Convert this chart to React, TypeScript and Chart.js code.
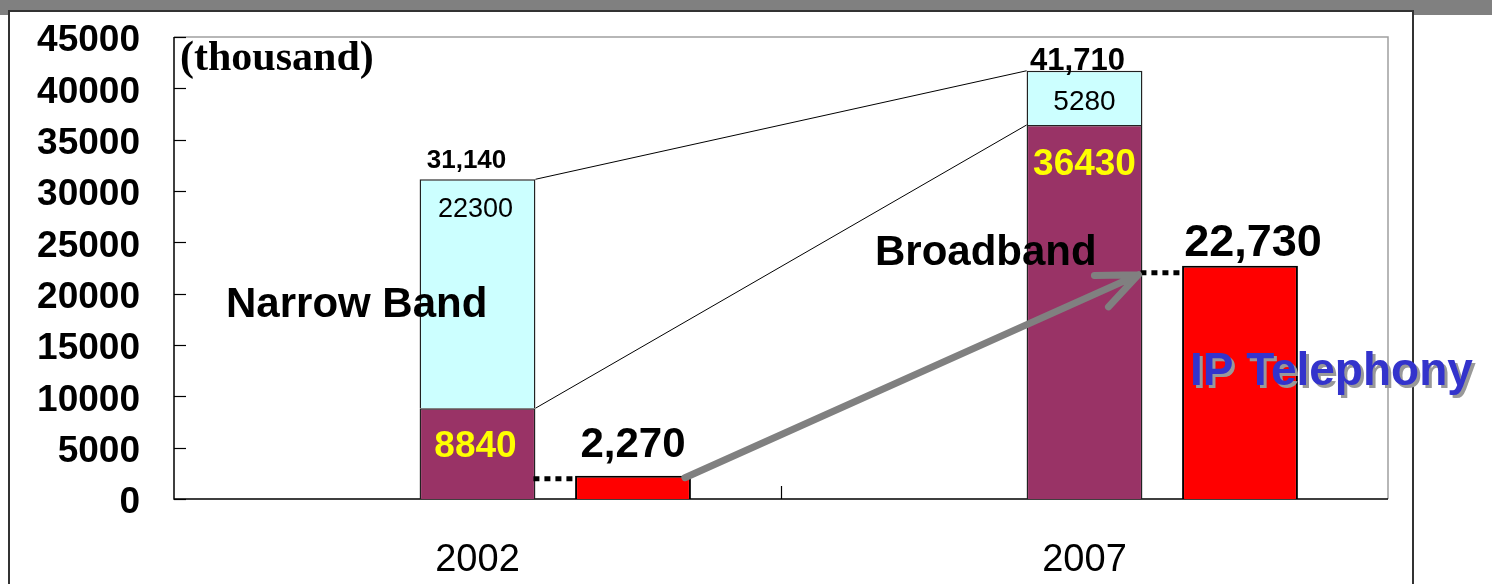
import React, { useEffect, useRef } from 'react';
import { Chart, registerables } from 'chart.js';

Chart.register(...registerables);

const W = 1492;
const H = 584;

const categories = ['2002', '2007'];
const broadband = [8840, 36430];
const narrowband = [22300, 5280];
const ipTelephony = [2270, 22730];
const totalLabels = ['31,140', '41,710'];
const ipLabels = ['2,270', '22,730'];
const yMax = 45000;
const yStep = 5000;

const SANS = '"Liberation Sans", Arial, sans-serif';
const SERIF = '"Liberation Serif", "Times New Roman", serif';

const decor = {
  id: 'decor',
  beforeDraw(chart: any) {
    const ctx = chart.ctx;
    ctx.save();
    ctx.fillStyle = '#ffffff';
    ctx.fillRect(0, 0, W, H);
    ctx.fillStyle = '#808080';
    ctx.fillRect(0, 0, W, 15);
    ctx.fillStyle = '#ffffff';
    ctx.fillRect(8, 10, 1405, H);
    ctx.strokeStyle = '#333333';
    ctx.lineWidth = 2;
    ctx.beginPath();
    ctx.moveTo(9, H);
    ctx.lineTo(9, 11);
    ctx.lineTo(1413, 11);
    ctx.lineTo(1413, H);
    ctx.stroke();
    ctx.restore();
  },
  beforeDatasetsDraw(chart: any) {
    const ctx = chart.ctx;
    const { left, right, top, bottom } = chart.chartArea;
    const ys = chart.scales.y;
    const xs = chart.scales.x;
    ctx.save();
    ctx.strokeStyle = '#a0a0a0';
    ctx.lineWidth = 1.5;
    ctx.beginPath();
    ctx.moveTo(left, top);
    ctx.lineTo(right, top);
    ctx.lineTo(right, bottom);
    ctx.stroke();
    ctx.strokeStyle = '#000000';
    ctx.beginPath();
    ctx.moveTo(left, top);
    ctx.lineTo(left, bottom);
    ctx.lineTo(right, bottom);
    ctx.stroke();
    ctx.lineWidth = 1.2;
    ys.ticks.forEach((t: any) => {
      const py = Math.round(ys.getPixelForValue(t.value)) + 0.5;
      ctx.beginPath();
      ctx.moveTo(left, py);
      ctx.lineTo(left + 12, py);
      ctx.stroke();
    });
    for (let i = 0; i < categories.length - 1; i++) {
      const px = Math.round((xs.getPixelForValue(i) + xs.getPixelForValue(i + 1)) / 2) + 0.5;
      ctx.beginPath();
      ctx.moveTo(px, bottom);
      ctx.lineTo(px, bottom - 13);
      ctx.stroke();
    }
    ctx.restore();
  },
  afterDatasetsDraw(chart: any) {
    const ctx = chart.ctx;
    const bb = chart.getDatasetMeta(1).data;
    const nb = chart.getDatasetMeta(2).data;
    const ip = chart.getDatasetMeta(3).data;
    ctx.save();

    // series lines between stacked bars
    ctx.strokeStyle = '#000000';
    ctx.lineWidth = 1;
    ctx.beginPath();
    ctx.moveTo(nb[0].x + nb[0].width / 2, nb[0].y);
    ctx.lineTo(nb[1].x - nb[1].width / 2, nb[1].y);
    ctx.moveTo(bb[0].x + bb[0].width / 2, bb[0].y);
    ctx.lineTo(bb[1].x - bb[1].width / 2, bb[1].y);
    ctx.stroke();

    // dotted connectors to IP bars
    ctx.lineWidth = 5;
    ctx.setLineDash([6, 5]);
    const dotOff = [3, 7];
    for (let i = 0; i < 2; i++) {
      const yy = ip[i].y + dotOff[i];
      ctx.beginPath();
      ctx.moveTo(bb[i].x + bb[i].width / 2 - 2, yy);
      ctx.lineTo(ip[i].x - ip[i].width / 2, yy);
      ctx.stroke();
    }
    ctx.setLineDash([]);

    // gray arrow
    const sx = ip[0].x + ip[0].width / 2 - 6;
    const sy = ip[0].y + 2;
    const ex = bb[1].x + bb[1].width / 2 - 4;
    const ey = ip[1].y + 9;
    const ang = Math.atan2(ey - sy, ex - sx);
    const hl = 44;
    const ha = (23 * Math.PI) / 180;
    ctx.strokeStyle = '#808080';
    ctx.lineWidth = 7;
    ctx.lineCap = 'round';
    ctx.lineJoin = 'round';
    ctx.beginPath();
    ctx.moveTo(sx, sy);
    ctx.lineTo(ex, ey);
    ctx.moveTo(ex - hl * Math.cos(ang - ha), ey - hl * Math.sin(ang - ha));
    ctx.lineTo(ex, ey);
    ctx.lineTo(ex - hl * Math.cos(ang + ha), ey - hl * Math.sin(ang + ha));
    ctx.stroke();

    ctx.textAlign = 'center';
    ctx.textBaseline = 'alphabetic';

    // totals
    ctx.fillStyle = '#000000';
    ctx.font = `bold 26px ${SANS}`;
    ctx.fillText(totalLabels[0], nb[0].x - 11, nb[0].y - 11);
    ctx.font = `bold 31px ${SANS}`;
    ctx.fillText(totalLabels[1], nb[1].x - 7, nb[1].y - 1);

    // narrowband values
    ctx.font = `27px ${SANS}`;
    ctx.fillText(String(narrowband[0]), nb[0].x - 2, nb[0].y + 38);
    ctx.font = `28px ${SANS}`;
    ctx.fillText(String(narrowband[1]), nb[1].x, nb[1].y + 39);

    // broadband values
    ctx.fillStyle = '#ffff00';
    ctx.font = `bold 37px ${SANS}`;
    ctx.fillText(String(broadband[0]), bb[0].x - 2, bb[0].y + 49);
    ctx.fillText(String(broadband[1]), bb[1].x, bb[1].y + 50);

    // IP telephony values
    ctx.fillStyle = '#000000';
    ctx.font = `bold 42px ${SANS}`;
    ctx.fillText(ipLabels[0], ip[0].x, ip[0].y - 19);
    ctx.font = `bold 45px ${SANS}`;
    ctx.fillText(ipLabels[1], ip[1].x + 13, ip[1].y - 10);

    // free labels
    ctx.textAlign = 'left';
    ctx.font = `bold 42px ${SERIF}`;
    ctx.fillText('(thousand)', 180, 70);
    ctx.font = `bold 42px ${SANS}`;
    ctx.fillText('Narrow Band', 226, 317);
    ctx.fillText('Broadband', 875, 265);
    ctx.font = `bold 46px ${SANS}`;
    ctx.fillStyle = '#999999';
    ctx.fillText('IP Telephony', 1193, 388);
    ctx.fillStyle = '#3333cc';
    ctx.fillText('IP Telephony', 1190, 385);

    ctx.restore();
  },
};

export default function App() {
  const ref = useRef<HTMLCanvasElement | null>(null);

  useEffect(() => {
    document.body.style.margin = '0';
    const canvas = ref.current;
    if (!canvas) return;
    const chart = new Chart(canvas, {
      type: 'bar',
      data: {
        labels: categories,
        datasets: [
          {
            label: 'spacer',
            data: [0, 0],
            stack: 'spacer',
            backgroundColor: 'rgba(0,0,0,0)',
            borderWidth: 0,
          },
          {
            label: 'Broadband',
            data: broadband,
            stack: 'internet',
            backgroundColor: '#993366',
            borderColor: '#222222',
            borderWidth: 1.5,
          },
          {
            label: 'Narrow Band',
            data: narrowband,
            stack: 'internet',
            backgroundColor: '#ccffff',
            borderColor: '#222222',
            borderWidth: 1.5,
          },
          {
            label: 'IP Telephony',
            data: ipTelephony,
            stack: 'ip',
            backgroundColor: '#ff0000',
            borderColor: '#000000',
            borderWidth: 2,
          },
        ],
      },
      options: {
        responsive: false,
        animation: false,
        devicePixelRatio: 1,
        categoryPercentage: 0.7685,
        barPercentage: 0.745,
        layout: { padding: { top: 37, right: 104, left: 0, bottom: 0 } },
        plugins: {
          legend: { display: false },
          tooltip: { enabled: false },
          title: { display: false },
        },
        scales: {
          x: {
            stacked: true,
            grid: { display: false, drawTicks: false },
            border: { display: false },
            ticks: {
              color: '#000000',
              padding: 39,
              font: { family: SANS, size: 38 },
            },
            afterFit: (s: any) => {
              s.height = 85;
              s.paddingLeft = 0;
              s.paddingRight = 0;
            },
          },
          y: {
            stacked: true,
            min: 0,
            max: yMax,
            grid: { display: false, drawTicks: false },
            border: { display: false },
            ticks: {
              stepSize: yStep,
              color: '#000000',
              padding: 34,
              labelOffset: 4,
              font: { family: SANS, size: 37, weight: 'bold' },
              callback: (v: any) => String(v),
            },
            afterFit: (s: any) => {
              s.width = 174;
              s.paddingTop = 0;
              s.paddingBottom = 0;
            },
          },
        },
      },
      plugins: [decor],
    } as any);
    return () => chart.destroy();
  }, []);

  return (
    <div style={{ position: 'fixed', left: 0, top: 0, width: W, height: H }}>
      <canvas ref={ref} width={W} height={H} style={{ width: W, height: H, display: 'block' }} />
    </div>
  );
}
